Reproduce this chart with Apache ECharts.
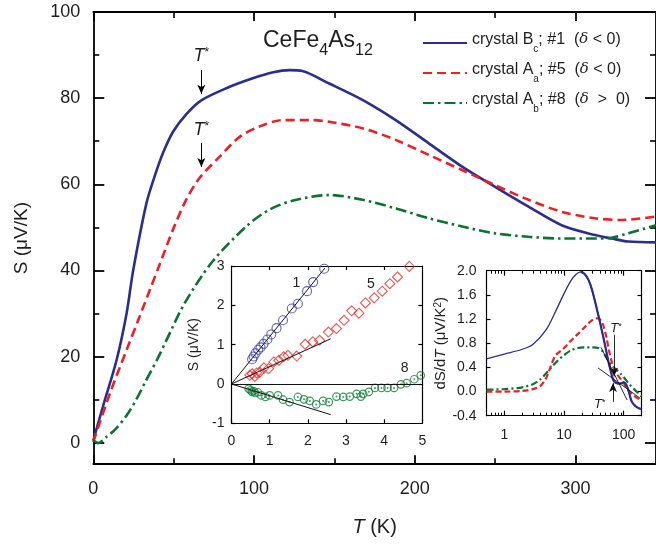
<!DOCTYPE html>
<html>
<head>
<meta charset="utf-8">
<script src="https://cdn.jsdelivr.net/npm/echarts@6/dist/echarts.min.js"></script>
<style>
  html, body { margin: 0; padding: 0; background: #fff; }
  #chart { width: 656px; height: 545px; }
</style>
</head>
<body>
<div id="chart"></div>
<script>
const FONT = '"Liberation Sans", Arial, Helvetica, sans-serif';
const BLUE = '#2b2e8c';
const RED = '#ec1f27';
const GREEN = '#0b7234';

// ---- Main panel: thermopower S (μV/K) vs T (K) ----
const tBc1 = [0, 6, 14.5, 20.7, 24.8, 33, 38.3, 43.4, 49.6, 57.9, 67.2, 82.7, 99.2, 112, 122, 130, 146.7, 167.4, 188.1, 208.7, 229.4, 249.9, 270.7, 291.3, 312.1, 322.4, 332.7, 350];
const sBc1 = [0.5, 8.4, 19.2, 30, 40, 55.5, 62, 67.3, 72.2, 76.3, 79.5, 82.3, 84.6, 86, 86.5, 86.3, 83.4, 79.6, 74.9, 69.5, 64.1, 59.4, 54.8, 50.5, 48.2, 47.4, 46.7, 46.5];

const tAa5 = [0, 10.4, 20.7, 28, 35.2, 41.4, 49.6, 57.9, 66.2, 78.6, 91, 103.3, 117.8, 136.4, 146.7, 167.4, 188.1, 208.7, 229.4, 249.9, 270.7, 291.3, 312.1, 328.6, 350];
const sAa5 = [0.2, 11.5, 21.5, 28.5, 35.5, 41.5, 49.5, 56.5, 61.5, 66.4, 71, 73.4, 74.9, 74.9, 74.5, 73, 70.3, 66.8, 63.3, 59.8, 56.4, 53.6, 52.1, 51.7, 52.5];

const tAb8 = [0, 3, 8, 14, 20.7, 27, 33, 40, 45.5, 57, 74, 96, 110, 125, 146.7, 167.4, 188.1, 208.7, 229.4, 249.9, 270.7, 291.3, 312.1, 322.4, 332.7, 350];
const sAb8 = [0.6, -0.1, 1.3, 3.2, 6.3, 10.2, 14.6, 19.5, 23.8, 32.5, 42, 50.5, 54.2, 56.3, 57.5, 56.4, 54.4, 52.1, 50.2, 48.6, 47.8, 47.4, 47.4, 47.6, 48.6, 50.5];

// T* markers on the main panel: [T, S at label, arrow start, arrow tip]
const tStarBlue = [67.2, 89.8, 86.5, 81.0];
const tStarRed = [67.2, 72.6, 69.6, 64.0];

// ---- Left inset: low-T S(T) ----
const lowT1 = [0.54, 0.58, 0.63, 0.70, 0.76, 0.84, 0.94, 1.04, 1.18, 1.35, 1.58, 1.74, 1.98, 2.14, 2.43];
const lowS1 = [0.63, 0.70, 0.78, 0.87, 0.93, 1.02, 1.13, 1.26, 1.42, 1.62, 1.92, 2.04, 2.36, 2.59, 2.93];

const lowT5 = [0.48, 0.54, 0.61, 0.66, 0.74, 0.85, 0.97, 1.11, 1.24, 1.37, 1.48, 1.71, 1.93, 2.13, 2.31, 2.54, 2.75, 2.95, 3.15, 3.34, 3.51, 3.74, 3.95, 4.15, 4.35, 4.66];
const lowS5 = [0.22, 0.26, 0.19, 0.28, 0.30, 0.41, 0.39, 0.56, 0.60, 0.69, 0.73, 0.71, 1.01, 1.07, 1.11, 1.32, 1.41, 1.62, 1.86, 1.80, 2.06, 2.19, 2.36, 2.55, 2.72, 2.99];

const lowT8 = [0.45, 0.50, 0.54, 0.58, 0.62, 0.69, 0.78, 0.89, 1.00, 1.22, 1.35, 1.52, 1.74, 1.90, 2.05, 2.22, 2.40, 2.55, 2.75, 2.93, 3.10, 3.28, 3.39, 3.45, 3.60, 3.76, 3.93, 4.09, 4.26, 4.44, 4.59, 4.79, 4.96];
const lowS8 = [-0.12, -0.16, -0.20, -0.18, -0.23, -0.21, -0.29, -0.33, -0.29, -0.29, -0.40, -0.46, -0.33, -0.39, -0.43, -0.52, -0.43, -0.46, -0.32, -0.33, -0.32, -0.25, -0.32, -0.25, -0.20, -0.10, -0.10, -0.10, -0.10, -0.01, 0.02, 0.12, 0.22];

// Linear low-T fits (from origin to end point) for #1, #5, #8
const fitEnd1 = [2.45, 2.95];
const fitEnd5 = [2.6, 1.15];
const fitEnd8 = [2.6, -0.78];
// Sample-number labels
const lowLabels = [['1', 1.7, 2.57], ['5', 3.65, 2.53], ['8', 4.54, 0.39]];

// ---- Right inset: dS/dT vs T (log scale) ----
const dT1 = [0.5, 1, 2, 3, 5, 7.5, 10, 13, 16, 19, 22, 26, 30, 38, 45, 50, 57, 63, 68, 75, 85, 100, 110, 120, 135, 150, 175, 200];
const dS1 = [0.54, 0.62, 0.70, 0.78, 1.02, 1.36, 1.62, 1.83, 1.94, 1.98, 1.95, 1.84, 1.66, 1.25, 0.93, 0.72, 0.45, 0.28, 0.18, 0.14, 0.13, 0.15, 0.12, 0.03, -0.15, -0.22, -0.27, -0.29];

const dT5 = [0.5, 1, 2, 3, 4, 5, 6, 7, 8, 10, 13, 17, 22, 28, 34, 38, 42, 47, 52, 57, 63, 70, 80, 90, 100, 120, 150, 200];
const dS5 = [0.0, 0.0, 0.01, 0.04, 0.09, 0.22, 0.42, 0.58, 0.64, 0.72, 0.84, 0.95, 1.06, 1.16, 1.21, 1.21, 1.17, 1.06, 0.88, 0.68, 0.50, 0.37, 0.27, 0.20, 0.14, 0.02, -0.07, -0.15];

const dT8 = [0.5, 1, 2, 3, 4, 5, 6, 8, 10, 13, 17, 22, 30, 38, 45, 50, 56, 62, 70, 80, 90, 100, 120, 150, 200];
const dS8 = [0.03, 0.04, 0.07, 0.12, 0.20, 0.30, 0.39, 0.52, 0.60, 0.68, 0.72, 0.73, 0.73, 0.72, 0.66, 0.58, 0.50, 0.44, 0.39, 0.34, 0.29, 0.24, 0.14, 0.04, -0.08];

// Tangent lines crossing at the kink, and T* arrows: [T, y] pairs
const tangentA = [[41.9, 0.73], [114.6, -0.14]];
const tangentB = [[37.4, 0.39], [189.7, -0.11]];
const arrowTop = [[69.2, 0.94], [69.2, 0.25]];
const arrowBottom = [[66.5, -0.17], [66.5, 0.14]];
const tStarTop = [74.6, 1.05];
const tStarBottom = [39.8, -0.22];

// ---- Tick values ----
const mainXMajor = [0, 100, 200, 300];
const mainXMinor = [50, 150, 250];
const mainYMajor = [0, 20, 40, 60, 80, 100];
const mainYMinor = [10, 30, 50, 70, 90];
const logMajor = [1, 10, 100];
const logMinor = [0.6, 0.7, 0.8, 0.9, 2, 3, 4, 5, 6, 7, 8, 9, 20, 30, 40, 50, 60, 70, 80, 90, 200];

const zip = (a, b) => a.map((v, i) => [v, b[i]]);
const lg = v => Math.log10(v);
const zipLog = (a, b) => a.map((v, i) => [lg(v), b[i]]);

function axis(o) {
  const lw = o.lineWidth || 1;
  const a = {
    type: 'value',
    gridIndex: o.grid,
    position: o.pos,
    min: o.min,
    max: o.max,
    scale: true,
    axisLine: { show: o.line !== false, onZero: false, lineStyle: { color: '#000', width: lw } },
    axisTick: {
      show: true, inside: true, length: o.len,
      customValues: o.ticks,
      lineStyle: { color: '#000', width: o.tickWidth || lw }
    },
    axisLabel: o.labels ? {
      show: true, customValues: o.labels, margin: o.margin,
      color: '#1e1e1e', fontFamily: FONT, fontSize: o.fontSize,
      formatter: o.formatter
    } : { show: false },
    splitLine: { show: false },
    minorTick: { show: false }
  };
  if (o.name) {
    a.name = o.name;
    a.nameLocation = 'middle';
    a.nameGap = o.nameGap;
    a.nameTextStyle = o.nameStyle;
  }
  return a;
}

const it = (size) => ({ fontFamily: FONT, fontSize: size, fontStyle: 'italic', fontWeight: 'normal', color: '#1e1e1e' });
const up = (size) => ({ fontFamily: FONT, fontSize: size, fontWeight: 'normal', color: '#1e1e1e' });

const logMin = lg(0.5), logMax = lg(200);

const xAxes = [
  // main panel
  axis({ grid: 0, pos: 'bottom', min: 0, max: 350, ticks: mainXMajor, len: 9, labels: mainXMajor, margin: 16, fontSize: 18, lineWidth: 1.8,
    name: '{i|T} (K)', nameGap: 53,
    nameStyle: Object.assign(up(20), { rich: { i: it(20) } }) }),
  axis({ grid: 0, pos: 'bottom', min: 0, max: 350, ticks: mainXMinor, len: 6, line: false, lineWidth: 1.6 }),
  axis({ grid: 0, pos: 'top', min: 0, max: 350, ticks: mainXMajor, len: 9, lineWidth: 1.8 }),
  axis({ grid: 0, pos: 'top', min: 0, max: 350, ticks: mainXMinor, len: 6, line: false, lineWidth: 1.6 }),
  // left inset
  axis({ grid: 1, pos: 'bottom', min: 0, max: 5, ticks: [0, 1, 2, 3, 4, 5], len: 4, labels: [0, 1, 2, 3, 4, 5], margin: 11, fontSize: 14, lineWidth: 1.2 }),
  axis({ grid: 1, pos: 'top', min: 0, max: 5, ticks: [1, 2, 3, 4], len: 4, lineWidth: 1.2 }),
  // right inset (log10 T)
  axis({ grid: 2, pos: 'bottom', min: logMin, max: logMax, ticks: logMajor.map(lg), len: 5, labels: logMajor.map(lg), margin: 12, fontSize: 14, lineWidth: 1.2,
    formatter: v => String(Math.round(Math.pow(10, v))) }),
  axis({ grid: 2, pos: 'bottom', min: logMin, max: logMax, ticks: logMinor.map(lg), len: 3, line: false, lineWidth: 1 }),
  axis({ grid: 2, pos: 'top', min: logMin, max: logMax, ticks: logMajor.map(lg), len: 5, lineWidth: 1.2 }),
  axis({ grid: 2, pos: 'top', min: logMin, max: logMax, ticks: logMinor.map(lg), len: 3, line: false, lineWidth: 1 })
];

const in2Y = [-0.4, 0, 0.4, 0.8, 1.2, 1.6, 2.0];
const yAxes = [
  axis({ grid: 0, pos: 'left', min: -5, max: 100, ticks: mainYMajor, len: 11, labels: mainYMajor, margin: 13, fontSize: 18, lineWidth: 1.8,
    name: 'S (\u03bcV/K)', nameGap: 62, nameStyle: up(19) }),
  axis({ grid: 0, pos: 'left', min: -5, max: 100, ticks: mainYMinor, len: 6, line: false, lineWidth: 1.6 }),
  axis({ grid: 0, pos: 'right', min: -5, max: 100, ticks: mainYMajor, len: 11, lineWidth: 1.8 }),
  axis({ grid: 0, pos: 'right', min: -5, max: 100, ticks: mainYMinor, len: 6, line: false, lineWidth: 1.6 }),
  axis({ grid: 1, pos: 'left', min: -1, max: 3, ticks: [-1, 0, 1, 2, 3], len: 4, labels: [-1, 0, 1, 2, 3], margin: 7, fontSize: 14, lineWidth: 1.2,
    name: 'S (\u03bcV/K)', nameGap: 30, nameStyle: up(14) }),
  axis({ grid: 1, pos: 'right', min: -1, max: 3, ticks: [0, 1, 2], len: 4, lineWidth: 1.2 }),
  axis({ grid: 2, pos: 'left', min: -0.4, max: 2.0, ticks: in2Y, len: 4, labels: in2Y, margin: 10, fontSize: 14, lineWidth: 1.2,
    formatter: v => v.toFixed(1),
    name: 'dS/d{i|T} (\u03bcV/K{s|2})', nameGap: 38,
    nameStyle: Object.assign(up(15), { rich: { i: it(15), s: { fontFamily: FONT, fontSize: 10, color: '#1e1e1e', verticalAlign: 'top', lineHeight: 10 } } }) }),
  axis({ grid: 2, pos: 'right', min: -0.4, max: 2.0, ticks: in2Y, len: 4, lineWidth: 1.2 })
];

const tStarRich = {
  i: it(18),
  s: { fontFamily: FONT, fontSize: 12, color: '#1e1e1e', verticalAlign: 'top', lineHeight: 10 }
};
const tStarRichSmall = {
  i: it(13),
  s: { fontFamily: FONT, fontSize: 9, color: '#1e1e1e', verticalAlign: 'top', lineHeight: 8 }
};
function textPoint(coord, text, rich) {
  return {
    coord, symbol: 'rect', symbolSize: 1, itemStyle: { color: 'rgba(0,0,0,0)' },
    label: { show: true, position: 'inside', formatter: text, rich, fontFamily: FONT }
  };
}
function arrowLine(from, to) {
  return [{ coord: from, symbol: 'none' }, { coord: to, symbol: 'arrow', symbolSize: [6, 9] }];
}

const NAME1 = 'crystal Bc; #1 (d<0)';
const NAME5 = 'crystal Aa; #5 (d<0)';
const NAME8 = 'crystal Ab; #8 (d>0)';
const legendText = {
  [NAME1]: '{n|crystal B}{b|c}{n|; #1  (}{d|\u03b4}{n| < 0)}',
  [NAME5]: '{n|crystal A}{b|a}{n|; #5  (}{d|\u03b4}{n| < 0)}',
  [NAME8]: '{n|crystal A}{b|b}{n|; #8  (}{d|\u03b4}{n|  >  0)}'
};

const mainLine = (name, t, s, color, type, width) => ({
  name, type: 'line', xAxisIndex: 0, yAxisIndex: 0,
  data: zip(t, s), showSymbol: false, symbol: 'none', smooth: 0.3,
  lineStyle: { color, width, type }, itemStyle: { color }, z: 3
});

const series = [
  Object.assign(mainLine(NAME1, tBc1, sBc1, BLUE, 'solid', 2.6), {
    markPoint: { silent: true, data: [textPoint([tStarBlue[0], tStarBlue[1]], '{i|T}{s|*}', tStarRich)] },
    markLine: { silent: true, animation: false, symbol: ['none', 'arrow'], label: { show: false },
      lineStyle: { color: '#000', width: 1, type: 'solid' },
      data: [arrowLine([tStarBlue[0], tStarBlue[2]], [tStarBlue[0], tStarBlue[3]])] }
  }),
  Object.assign(mainLine(NAME5, tAa5, sAa5, RED, [9, 5], 2.6), {
    markPoint: { silent: true, data: [textPoint([tStarRed[0], tStarRed[1]], '{i|T}{s|*}', tStarRich)] },
    markLine: { silent: true, animation: false, symbol: ['none', 'arrow'], label: { show: false },
      lineStyle: { color: '#000', width: 1, type: 'solid' },
      data: [arrowLine([tStarRed[0], tStarRed[2]], [tStarRed[0], tStarRed[3]])] }
  }),
  mainLine(NAME8, tAb8, sAb8, GREEN, [11, 4, 2.5, 4], 2.6),

  // left inset: fits and zero line
  { type: 'line', xAxisIndex: 4, yAxisIndex: 4, data: [[0, 0], fitEnd1], symbol: 'none', lineStyle: { color: '#111', width: 1 }, silent: true,
    markLine: { silent: true, symbol: 'none', label: { show: false }, lineStyle: { color: '#111', width: 1, type: 'solid' }, data: [{ yAxis: 0 }] } },
  { type: 'line', xAxisIndex: 4, yAxisIndex: 4, data: [[0, 0], fitEnd5], symbol: 'none', lineStyle: { color: '#111', width: 1 }, silent: true },
  { type: 'line', xAxisIndex: 4, yAxisIndex: 4, data: [[0, 0], fitEnd8], symbol: 'none', lineStyle: { color: '#111', width: 1 }, silent: true },
  { type: 'scatter', xAxisIndex: 4, yAxisIndex: 4, data: zip(lowT1, lowS1), symbol: 'circle', symbolSize: 9,
    itemStyle: { color: 'rgba(255,255,255,0)', borderColor: '#3a3ab0', borderWidth: 1.1 },
    markPoint: { silent: true, data: [textPoint([lowLabels[0][1], lowLabels[0][2]], lowLabels[0][0], {})], label: { fontSize: 14, color: '#1e1e1e' } } },
  { type: 'scatter', xAxisIndex: 4, yAxisIndex: 4, data: zip(lowT5, lowS5), symbol: 'diamond', symbolSize: 10,
    itemStyle: { color: 'rgba(255,255,255,0)', borderColor: '#ee2a2a', borderWidth: 1.1 },
    markPoint: { silent: true, data: [textPoint([lowLabels[1][1], lowLabels[1][2]], lowLabels[1][0], {})], label: { fontSize: 14, color: '#1e1e1e' } } },
  { type: 'scatter', xAxisIndex: 4, yAxisIndex: 4, data: zip(lowT8, lowS8), symbol: 'circle', symbolSize: 7.5,
    itemStyle: { color: 'rgba(255,255,255,0)', borderColor: '#12803c', borderWidth: 1.2 },
    markPoint: { silent: true, data: [textPoint([lowLabels[2][1], lowLabels[2][2]], lowLabels[2][0], {})], label: { fontSize: 14, color: '#1e1e1e' } } },
  { type: 'scatter', xAxisIndex: 4, yAxisIndex: 4, data: zip(lowT8, lowS8), symbol: 'circle', symbolSize: 2,
    itemStyle: { color: '#12803c' }, silent: true },

  // right inset: dS/dT
  { type: 'line', xAxisIndex: 6, yAxisIndex: 6, data: zipLog(dT8, dS8), symbol: 'none', smooth: 0.3,
    lineStyle: { color: GREEN, width: 2.2, type: [7, 3, 2, 3] } },
  { type: 'line', xAxisIndex: 6, yAxisIndex: 6, data: zipLog(dT5, dS5), symbol: 'none', smooth: 0.3,
    lineStyle: { color: RED, width: 2.2, type: [6, 3] } },
  { type: 'line', xAxisIndex: 6, yAxisIndex: 6, data: zipLog(dT1, dS1), symbol: 'none', smooth: 0.3,
    lineStyle: { color: BLUE, width: 1.3 } },
  { type: 'line', xAxisIndex: 6, yAxisIndex: 6, data: zipLog(dT1, dS1).filter(p => p[0] >= lg(19)), symbol: 'none', smooth: 0.3,
    lineStyle: { color: BLUE, width: 2.2 },
    markLine: { silent: true, symbol: ['none', 'none'], label: { show: false },
      lineStyle: { color: '#111', width: 0.9, type: 'solid' },
      data: [
        [{ coord: [lg(tangentA[0][0]), tangentA[0][1]] }, { coord: [lg(tangentA[1][0]), tangentA[1][1]] }],
        [{ coord: [lg(tangentB[0][0]), tangentB[0][1]] }, { coord: [lg(tangentB[1][0]), tangentB[1][1]] }],
        arrowLine([lg(arrowTop[0][0]), arrowTop[0][1]], [lg(arrowTop[1][0]), arrowTop[1][1]]),
        arrowLine([lg(arrowBottom[0][0]), arrowBottom[0][1]], [lg(arrowBottom[1][0]), arrowBottom[1][1]])
      ] },
    markPoint: { silent: true, data: [
      textPoint([lg(tStarTop[0]), tStarTop[1]], '{i|T}{s|*}', tStarRichSmall),
      textPoint([lg(tStarBottom[0]), tStarBottom[1]], '{i|T}{s|*}', tStarRichSmall)
    ] } }
];

const chart = echarts.init(document.getElementById('chart'), null, { renderer: 'canvas' });
chart.setOption({
  animation: false,
  backgroundColor: '#fff',
  textStyle: { fontFamily: FONT },
  title: {
    text: '{a|CeFe}{b|4}{a|As}{b|12}',
    left: 258, top: 24,
    textStyle: {
      fontWeight: 'normal',
      rich: {
        a: { fontFamily: FONT, fontSize: 23, fontWeight: 'normal', color: '#1e1e1e', lineHeight: 30, verticalAlign: 'top' },
        b: { fontFamily: FONT, fontSize: 16, fontWeight: 'normal', color: '#1e1e1e', lineHeight: 16, verticalAlign: 'bottom' }
      }
    }
  },
  legend: {
    data: [NAME1, NAME5, NAME8],
    orient: 'vertical',
    left: 417, top: 27,
    itemWidth: 44, itemHeight: 12, itemGap: 8,
    itemStyle: { opacity: 0, color: 'rgba(0,0,0,0)', borderWidth: 0 },
    formatter: n => legendText[n],
    textStyle: {
      rich: {
        n: { fontFamily: FONT, fontSize: 16, color: '#1e1e1e', lineHeight: 22, verticalAlign: 'top' },
        b: { fontFamily: FONT, fontSize: 10, color: '#1e1e1e', lineHeight: 10, verticalAlign: 'bottom' },
        d: { fontFamily: 'DejaVu Serif, serif', fontSize: 15, fontStyle: 'italic', color: '#1e1e1e', lineHeight: 22, verticalAlign: 'top' }
      }
    }
  },
  grid: [
    { left: 93.3, top: 12, width: 564.6, height: 452.2 },
    { left: 231.5, top: 266, width: 190.8, height: 157.3 },
    { left: 486.5, top: 270.7, width: 155, height: 145 }
  ],
  xAxis: xAxes,
  yAxis: yAxes,
  series
});
</script>
</body>
</html>
